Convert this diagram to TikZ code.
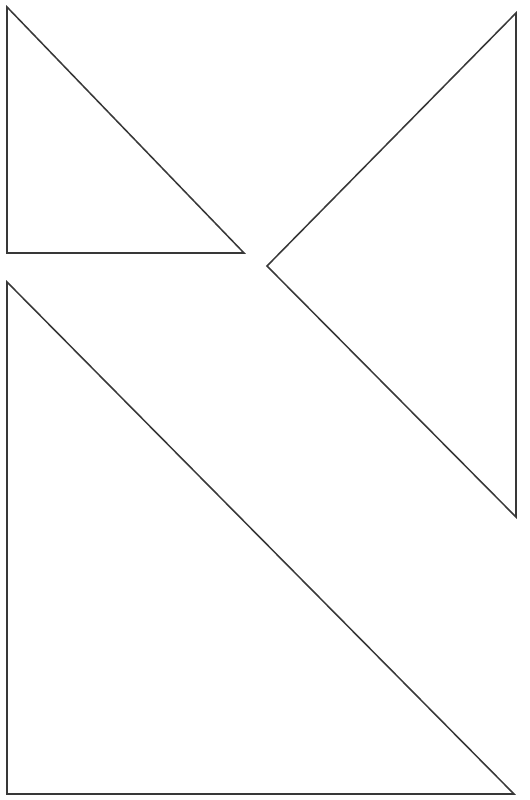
\documentclass[tikz,border=0pt]{standalone}
\begin{document}
\begin{tikzpicture}[x=0.75pt,y=-0.75pt,
  tri/.style={draw=black!78,line width=1.15pt,line join=miter}]
\useasboundingbox (0,0) rectangle (529,800);
% triangle 1
\coordinate (a1) at (7,7);
\coordinate (a2) at (7,253);
\coordinate (a3) at (244,253);
\draw[tri] (a1) -- (a2) -- (a3) -- cycle;
% triangle 2
\coordinate (b1) at (516,13);
\coordinate (b2) at (267,266);
\coordinate (b3) at (516,517);
\draw[tri] (b1) -- (b2) -- (b3) -- cycle;
% triangle 3
\coordinate (c1) at (7,282);
\coordinate (c2) at (7,794);
\coordinate (c3) at (514,794);
\draw[tri] (c1) -- (c2) -- (c3) -- cycle;
\end{tikzpicture}
\end{document}
